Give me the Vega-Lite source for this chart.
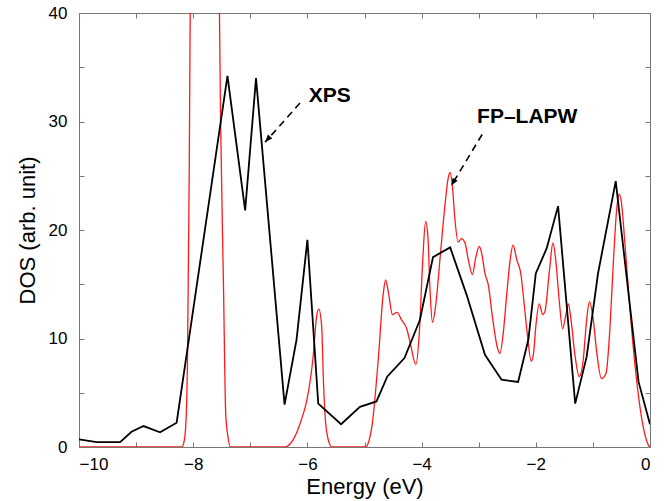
{
  "$schema": "https://vega.github.io/schema/vega-lite/v6.json",
  "autosize": {"type": "none"},
  "padding": {"left": 79, "top": 13, "right": 16, "bottom": 54},
  "width": 571,
  "height": 434,
  "background": "white",
  "config": {
    "view": {"stroke": null},
    "font": "Liberation Sans",
    "axis": {
      "grid": false,
      "domainColor": "#777",
      "tickColor": "#777",
      "labelFont": "Liberation Sans",
      "titleFont": "Liberation Sans",
      "labelFontSize": 17,
      "titleFontSize": 22,
      "labelColor": "black",
      "titleColor": "black",
      "titleFontWeight": "normal"
    }
  },
  "datasets": {
    "xps": [
      {"energy": -10, "dos": 0.71}, {"energy": -9.69, "dos": 0.45}, {"energy": -9.28, "dos": 0.45},
      {"energy": -9.08, "dos": 1.4}, {"energy": -8.87, "dos": 1.93}, {"energy": -8.58, "dos": 1.35},
      {"energy": -8.29, "dos": 2.24}, {"energy": -7.40, "dos": 34.2}, {"energy": -7.09, "dos": 21.8},
      {"energy": -6.90, "dos": 34.0}, {"energy": -6.40, "dos": 3.9}, {"energy": -6.19, "dos": 9.9},
      {"energy": -6.00, "dos": 19.1}, {"energy": -5.81, "dos": 4.0}, {"energy": -5.41, "dos": 2.1},
      {"energy": -5.08, "dos": 3.7}, {"energy": -4.79, "dos": 4.2}, {"energy": -4.60, "dos": 6.5},
      {"energy": -4.30, "dos": 8.2}, {"energy": -4.03, "dos": 11.7}, {"energy": -3.80, "dos": 17.5},
      {"energy": -3.50, "dos": 18.4}, {"energy": -3.21, "dos": 14.0}, {"energy": -2.89, "dos": 8.5},
      {"energy": -2.60, "dos": 6.2}, {"energy": -2.31, "dos": 6.0}, {"energy": -2.13, "dos": 9.9},
      {"energy": -2.00, "dos": 16.0}, {"energy": -1.81, "dos": 18.3}, {"energy": -1.61, "dos": 22.2},
      {"energy": -1.31, "dos": 4.0}, {"energy": -1.11, "dos": 8.3}, {"energy": -0.91, "dos": 16.0},
      {"energy": -0.60, "dos": 24.5}, {"energy": -0.20, "dos": 6.0}, {"energy": 0, "dos": 2.1}
    ],
    "lapw": [
      {"energy": -10, "dos": 0}, {"energy": -8.2, "dos": 0}, {"energy": -8.16, "dos": 0.5},
      {"energy": -8.13, "dos": 2}, {"energy": -8.1, "dos": 8}, {"energy": -8.07, "dos": 25},
      {"energy": -8.04, "dos": 50}, {"energy": -7.8, "dos": 110}, {"energy": -7.56, "dos": 50},
      {"energy": -7.52, "dos": 30}, {"energy": -7.47, "dos": 15}, {"energy": -7.43, "dos": 3},
      {"energy": -7.39, "dos": 0.9}, {"energy": -7.35, "dos": 0}, {"energy": -6.4, "dos": 0},
      {"energy": -6.3, "dos": 0.3}, {"energy": -6.19, "dos": 1.3}, {"energy": -6.1, "dos": 2.6},
      {"energy": -6.01, "dos": 4.3}, {"energy": -5.9, "dos": 8.3}, {"energy": -5.84, "dos": 12.0},
      {"energy": -5.80, "dos": 12.7}, {"energy": -5.75, "dos": 11.1}, {"energy": -5.72, "dos": 6.2},
      {"energy": -5.68, "dos": 2.2}, {"energy": -5.62, "dos": 0.4}, {"energy": -5.57, "dos": 0},
      {"energy": -4.98, "dos": 0}, {"energy": -4.92, "dos": 0.6}, {"energy": -4.87, "dos": 1.9},
      {"energy": -4.76, "dos": 8.0}, {"energy": -4.67, "dos": 14.2}, {"energy": -4.63, "dos": 15.4},
      {"energy": -4.58, "dos": 14.2}, {"energy": -4.51, "dos": 12.2}, {"energy": -4.43, "dos": 12.4},
      {"energy": -4.35, "dos": 11.7}, {"energy": -4.26, "dos": 10.9}, {"energy": -4.20, "dos": 9.6},
      {"energy": -4.10, "dos": 7.6}, {"energy": -4.04, "dos": 10.5}, {"energy": -3.98, "dos": 17.2},
      {"energy": -3.93, "dos": 20.8}, {"energy": -3.89, "dos": 19.4}, {"energy": -3.85, "dos": 14.2},
      {"energy": -3.81, "dos": 11.5}, {"energy": -3.75, "dos": 13.2}, {"energy": -3.68, "dos": 17.2},
      {"energy": -3.60, "dos": 21.8}, {"energy": -3.53, "dos": 24.9}, {"energy": -3.50, "dos": 25.3},
      {"energy": -3.46, "dos": 24.0}, {"energy": -3.42, "dos": 21.2}, {"energy": -3.36, "dos": 18.9},
      {"energy": -3.30, "dos": 19.2}, {"energy": -3.24, "dos": 18.8}, {"energy": -3.18, "dos": 17.2},
      {"energy": -3.11, "dos": 15.9}, {"energy": -3.05, "dos": 17.5}, {"energy": -2.99, "dos": 18.5},
      {"energy": -2.95, "dos": 17.9}, {"energy": -2.89, "dos": 16.0}, {"energy": -2.83, "dos": 14.9},
      {"energy": -2.76, "dos": 12.0}, {"energy": -2.67, "dos": 9.1}, {"energy": -2.63, "dos": 8.6},
      {"energy": -2.57, "dos": 10.5}, {"energy": -2.51, "dos": 14.0}, {"energy": -2.45, "dos": 17.2},
      {"energy": -2.40, "dos": 18.6}, {"energy": -2.33, "dos": 17.2}, {"energy": -2.26, "dos": 15.9},
      {"energy": -2.21, "dos": 13.5}, {"energy": -2.15, "dos": 10.5}, {"energy": -2.08, "dos": 7.9},
      {"energy": -2.04, "dos": 8.6}, {"energy": -2.00, "dos": 11.1}, {"energy": -1.94, "dos": 13.2},
      {"energy": -1.88, "dos": 12.2}, {"energy": -1.84, "dos": 12.5}, {"energy": -1.76, "dos": 16.3},
      {"energy": -1.70, "dos": 18.8}, {"energy": -1.65, "dos": 17.2}, {"energy": -1.59, "dos": 13.5},
      {"energy": -1.53, "dos": 10.9}, {"energy": -1.48, "dos": 12.0}, {"energy": -1.43, "dos": 13.2},
      {"energy": -1.39, "dos": 12.0}, {"energy": -1.31, "dos": 8.3}, {"energy": -1.24, "dos": 6.5},
      {"energy": -1.17, "dos": 8.0}, {"energy": -1.11, "dos": 11.7}, {"energy": -1.06, "dos": 13.4},
      {"energy": -1.00, "dos": 12.0}, {"energy": -0.93, "dos": 8.6}, {"energy": -0.85, "dos": 6.3},
      {"energy": -0.77, "dos": 6.8}, {"energy": -0.70, "dos": 11.1}, {"energy": -0.64, "dos": 17.2},
      {"energy": -0.58, "dos": 22.1}, {"energy": -0.54, "dos": 23.3}, {"energy": -0.50, "dos": 22.5},
      {"energy": -0.44, "dos": 18.8}, {"energy": -0.35, "dos": 12.6}, {"energy": -0.26, "dos": 7.4},
      {"energy": -0.15, "dos": 2.8}, {"energy": -0.03, "dos": 0.2}, {"energy": 0, "dos": 0}
    ],
    "notes": [
      {"label": "XPS", "tx": -5.61, "ty": 31.8, "ax1": -6.13, "ay1": 31.7, "ax2": -6.74, "ay2": 28.1},
      {"label": "FP–LAPW", "tx": -2.15, "ty": 29.85, "ax1": -2.94, "ay1": 28.8, "ax2": -3.48, "ay2": 24.1}
    ]
  },
  "resolve": {"axis": {"x": "independent", "y": "independent"}},
  "layer": [
    {
      "data": {"name": "lapw"},
      "mark": {"type": "line", "color": "#ff1a1a", "strokeWidth": 1.3, "interpolate": "monotone", "clip": true},
      "encoding": {
        "x": {"field": "energy", "type": "quantitative",
              "scale": {"domain": [-10, 0], "nice": false, "zero": false},
              "axis": {"orient": "top", "labels": false, "title": null, "values": [-10, -9, -8, -7, -6, -5, -4, -3, -2, -1, 0], "tickSize": -5, "domain": true}},
        "y": {"field": "dos", "type": "quantitative",
              "scale": {"domain": [0, 40], "nice": false},
              "axis": {"orient": "right", "labels": false, "title": null, "values": [0, 5, 10, 15, 20, 25, 30, 35, 40], "tickSize": -5, "domain": true}}
      }
    },
    {
      "data": {"name": "xps"},
      "mark": {"type": "line", "color": "black", "strokeWidth": 1.8, "clip": true},
      "encoding": {
        "x": {"field": "energy", "type": "quantitative",
              "scale": {"domain": [-10, 0], "nice": false, "zero": false},
              "axis": {"orient": "bottom", "title": "Energy (eV)", "values": [-10, -9, -8, -7, -6, -5, -4, -3, -2, -1, 0],
                       "labelExpr": "datum.value % 2 === 0 ? datum.label : ''",
                       "tickSize": -5, "labelPadding": 14, "titlePadding": 4}},
        "y": {"field": "dos", "type": "quantitative",
              "scale": {"domain": [0, 40], "nice": false},
              "axis": {"orient": "left", "title": "DOS (arb. unit)", "values": [0, 5, 10, 15, 20, 25, 30, 35, 40],
                       "labelExpr": "datum.value % 10 === 0 ? datum.label : ''",
                       "tickSize": -5, "labelPadding": 17, "titlePadding": 9}}
      }
    },
    {
      "data": {"name": "notes"},
      "mark": {"type": "rule", "color": "black", "strokeWidth": 1.6, "strokeDash": [7, 5]},
      "encoding": {
        "x": {"field": "ax1", "type": "quantitative", "axis": null},
        "y": {"field": "ay1", "type": "quantitative", "axis": null},
        "x2": {"field": "ax2"},
        "y2": {"field": "ay2"}
      }
    },
    {
      "data": {"name": "notes"},
      "mark": {"type": "text", "font": "Liberation Sans", "fontWeight": "bold", "fontSize": 21, "align": "center", "baseline": "alphabetic", "color": "black"},
      "encoding": {
        "x": {"field": "tx", "type": "quantitative", "axis": null},
        "y": {"field": "ty", "type": "quantitative", "axis": null},
        "text": {"field": "label"}
      }
    },
    {
      "data": {"name": "notes"},
      "transform": [{"filter": "datum.label === 'XPS'"}],
      "mark": {"type": "point", "shape": "M0,0L-0.4,1L0.4,1Z", "filled": true, "color": "black", "opacity": 1, "size": 220, "angle": 222},
      "encoding": {
        "x": {"field": "ax2", "type": "quantitative", "axis": null},
        "y": {"field": "ay2", "type": "quantitative", "axis": null}
      }
    },
    {
      "data": {"name": "notes"},
      "transform": [{"filter": "datum.label !== 'XPS'"}],
      "mark": {"type": "point", "shape": "M0,0L-0.4,1L0.4,1Z", "filled": true, "color": "black", "opacity": 1, "size": 220, "angle": 211.5},
      "encoding": {
        "x": {"field": "ax2", "type": "quantitative", "axis": null},
        "y": {"field": "ay2", "type": "quantitative", "axis": null}
      }
    }
  ]
}
